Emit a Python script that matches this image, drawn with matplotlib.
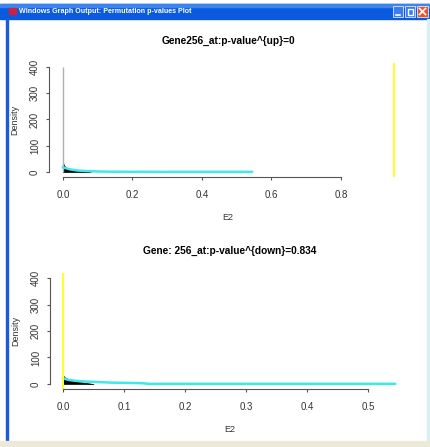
import matplotlib
matplotlib.use('Agg')
import matplotlib.pyplot as plt
from matplotlib.patches import Rectangle

plt.rcParams['font.family'] = ['Liberation Sans', 'DejaVu Sans']

# ---- data ----
# top panel (p-value up)
up_title = 'Gene256_at:p-value^{up}=0'
up_xticks = [0.0, 0.2, 0.4, 0.6, 0.8]
up_yticks = [0, 100, 200, 300, 400]
up_cyan_x = [0.0, 0.005, 0.01, 0.02, 0.04, 0.06, 0.1, 0.15, 0.3, 0.45, 0.544]
up_cyan_y = [18, 16, 14, 10, 6, 4, 2, 1, 0.5, 0.5, 0.5]
up_black_x = [0.0, 0.002, 0.005, 0.01, 0.02, 0.03, 0.05, 0.08]
up_black_y = [38, 28, 22, 16, 11, 7, 3, 0]
up_spike_x = 0.0
up_spike_h = 400
up_observed = 0.953

# bottom panel (p-value down)
down_title = 'Gene: 256_at:p-value^{down}=0.834'
down_xticks = [0.0, 0.1, 0.2, 0.3, 0.4, 0.5]
down_yticks = [0, 100, 200, 300, 400]
down_cyan_x = [0.0, 0.005, 0.01, 0.02, 0.03, 0.05, 0.08, 0.13, 0.14, 0.3, 0.544]
down_cyan_y = [22, 18, 15, 12, 10, 8, 5, 3, 0.5, 0.5, 0.5]
down_black_x = [0.0, 0.003, 0.008, 0.015, 0.025, 0.04, 0.05]
down_black_y = [32, 25, 19, 13, 8, 3, 0]
down_observed = 0.0

W, H = 430, 447
fig = plt.figure(figsize=(W / 100, H / 100), dpi=100)


def px_rect(l, t, r, b):
    return [l / W, 1 - b / H, (r - l) / W, (b - t) / H]


# ---- window chrome ----
bg = fig.add_axes([0, 0, 1, 1], zorder=0)
bg.set_xlim(0, W)
bg.set_ylim(H, 0)
bg.axis('off')
bg.add_patch(Rectangle((0, 4), W, 15, color='#0a5ade'))
bg.add_patch(Rectangle((0, 4), W, 3, color='#3d84f0'))
bg.add_patch(Rectangle((9, 8), 7, 6, color='#d02040'))
bg.text(19, 11.5, 'Windows Graph Output: Permutation p-values Plot', color='white',
        fontsize=5.1, fontweight='bold', va='center', ha='left')
bg.add_patch(Rectangle((393, 6), 10, 11, color='#3b7cf0', ec='white', lw=0.5))
bg.plot([395.5, 399.5], [14.5, 14.5], color='white', lw=1.2)
bg.add_patch(Rectangle((405, 6), 10, 11, color='#3b7cf0', ec='white', lw=0.5))
bg.add_patch(Rectangle((407.5, 8.5), 5, 6, fill=False, ec='white', lw=1))
bg.add_patch(Rectangle((417, 6), 11, 11, color='#e2582d', ec='white', lw=0.5))
bg.plot([419.5, 425.5], [8.5, 14.5], color='white', lw=1.2)
bg.plot([419.5, 425.5], [14.5, 8.5], color='white', lw=1.2)
bg.add_patch(Rectangle((6, 19), 2, 422, color='#1a5cd8'))
bg.add_patch(Rectangle((427, 19), 2, 422, color='#d8f0f0'))
bg.add_patch(Rectangle((0, 441), W, 6, color='#ece9d8'))


def draw_panel(rect, xlim, ylim, xticks, yticks, title, cyan_x, cyan_y,
               black_x, black_y, observed, spike=None):
    ax = fig.add_axes(px_rect(*rect), zorder=1)
    ax.patch.set_alpha(0)
    ax.set_xlim(*xlim)
    ax.set_ylim(*ylim)
    if spike is not None:
        ax.vlines(spike[0], 0, spike[1], color='#b0b0b0', lw=1)
    ax.fill_between(black_x, 0, black_y, color='black', lw=0.5)
    ax.plot(cyan_x, cyan_y, color='#40e8e8', lw=1.8)
    ax.axvline(observed, color='#ffff30', lw=1.5)
    for s in ['top', 'right']:
        ax.spines[s].set_visible(False)
    for s in ['left', 'bottom']:
        ax.spines[s].set_color('#555555')
        ax.spines[s].set_linewidth(0.8)
    ax.spines['bottom'].set_bounds(xticks[0], xticks[-1])
    ax.spines['left'].set_bounds(yticks[0], yticks[-1])
    ax.set_xticks(xticks)
    ax.set_xticklabels([f'{v:.1f}' for v in xticks])
    ax.set_yticks(yticks)
    ax.set_yticklabels([str(v) for v in yticks], rotation=90, va='center')
    ax.tick_params(axis='both', colors='#555555', labelcolor='#333333',
                   labelsize=7, length=2.5, width=0.8)
    ax.tick_params(axis='x', pad=7)
    ax.tick_params(axis='y', pad=4)
    ax.set_xlabel('E2', fontsize=6.5, color='#333333', labelpad=9)
    ax.set_ylabel('Density', fontsize=6.5, color='#333333', labelpad=8)
    ax.set_title(title, fontsize=7.3, fontweight='bold', pad=14)
    return ax


draw_panel((49, 63, 407, 177), (-0.0403, 0.99), (-19, 415), up_xticks, up_yticks,
           up_title, up_cyan_x, up_cyan_y, up_black_x, up_black_y, up_observed,
           spike=(up_spike_x, up_spike_h))
draw_panel((50, 273, 409, 389), (-0.0213, 0.567), (-19, 419), down_xticks, down_yticks,
           down_title, down_cyan_x, down_cyan_y, down_black_x, down_black_y,
           down_observed)

fig.savefig('out.png', dpi=100)
